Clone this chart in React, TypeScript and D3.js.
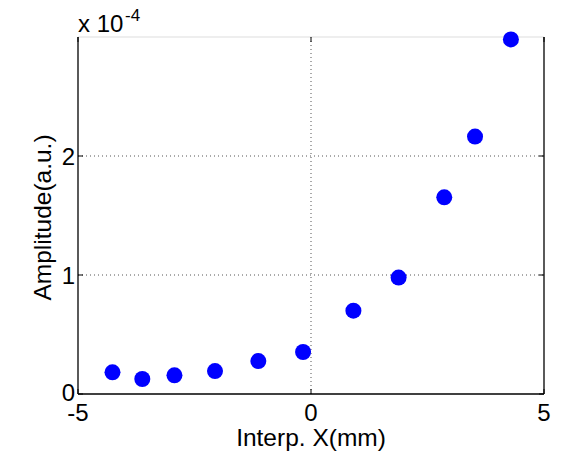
import React from "react";
import * as d3 from "d3";

const xValues = [-4.26, -3.62, -2.93, -2.06, -1.13, -0.17, 0.91, 1.88, 2.86, 3.52, 4.29];
const yValues = [0.182, 0.126, 0.157, 0.193, 0.277, 0.353, 0.70, 0.978, 1.653, 2.163, 2.98]; // x 1e-4
const xTicks = [-5, 0, 5];
const yTicks = [0, 1, 2];
const xGrid = [0];
const yGrid = [1, 2];

const W = 566, H = 451;
const L = 78, R = 544, T = 37, B = 394;
const FONT = "'Liberation Sans', Arial, sans-serif";

export default function App() {
  const x = d3.scaleLinear().domain([-5, 5]).range([L, R]);
  const y = d3.scaleLinear().domain([0, 3]).range([B, T]);
  const tk = 5;
  return (
    <svg width={W} height={H} style={{ position: "absolute", left: 0, top: 0, background: "#fff" }} fontFamily={FONT}>
      <rect x={0} y={0} width={W} height={H} fill="#fff" />
      {/* grid */}
      {xGrid.map((v) => (
        <line key={"gx" + v} x1={x(v)} x2={x(v)} y1={T} y2={B} stroke="#555" strokeWidth={1} strokeDasharray="1,3" />
      ))}
      {yGrid.map((v) => (
        <line key={"gy" + v} x1={L} x2={R} y1={y(v)} y2={y(v)} stroke="#555" strokeWidth={1} strokeDasharray="1,3" />
      ))}
      {/* box */}
      <line x1={L} x2={R} y1={T} y2={T} stroke="#ddd" strokeWidth={1} />
      <line x1={L} x2={R} y1={B} y2={B} stroke="#000" strokeWidth={1.3} />
      <line x1={L} x2={L} y1={T} y2={B} stroke="#000" strokeWidth={1.3} />
      <line x1={R} x2={R} y1={T} y2={B} stroke="#000" strokeWidth={1.3} />
      {/* ticks */}
      {xTicks.map((v) => (
        <g key={"xt" + v}>
          <line x1={x(v)} x2={x(v)} y1={B} y2={B - tk} stroke="#000" />
          <line x1={x(v)} x2={x(v)} y1={T} y2={T + tk} stroke="#000" />
          <text x={x(v)} y={421} textAnchor="middle" fontSize={24} fill="#000">{v < 0 ? "-" + Math.abs(v) : v}</text>
        </g>
      ))}
      {yTicks.map((v) => (
        <g key={"yt" + v}>
          <line x1={L} x2={L + tk} y1={y(v)} y2={y(v)} stroke="#000" />
          <line x1={R} x2={R - tk} y1={y(v)} y2={y(v)} stroke="#000" />
          <text x={75} y={y(v) + (v === 0 ? 7 : 8.5)} textAnchor="end" fontSize={24} fill="#000">{v}</text>
        </g>
      ))}
      {/* exponent */}
      <text x={78} y={32} fontSize={24} fill="#000">x 10</text>
      <text x={125} y={21} fontSize={17} fill="#000">-4</text>
      {/* points */}
      {xValues.map((v, i) => (
        <circle key={"p" + i} cx={x(v)} cy={y(yValues[i])} r={8} fill="#0000ff" />
      ))}
      {/* labels */}
      <text x={311} y={446} textAnchor="middle" fontSize={24.5} fill="#000">Interp. X(mm)</text>
      <text transform={`translate(51,${(T + B) / 2 + 2}) rotate(-90)`} textAnchor="middle" fontSize={24.5} fill="#000">Amplitude(a.u.)</text>
    </svg>
  );
}
